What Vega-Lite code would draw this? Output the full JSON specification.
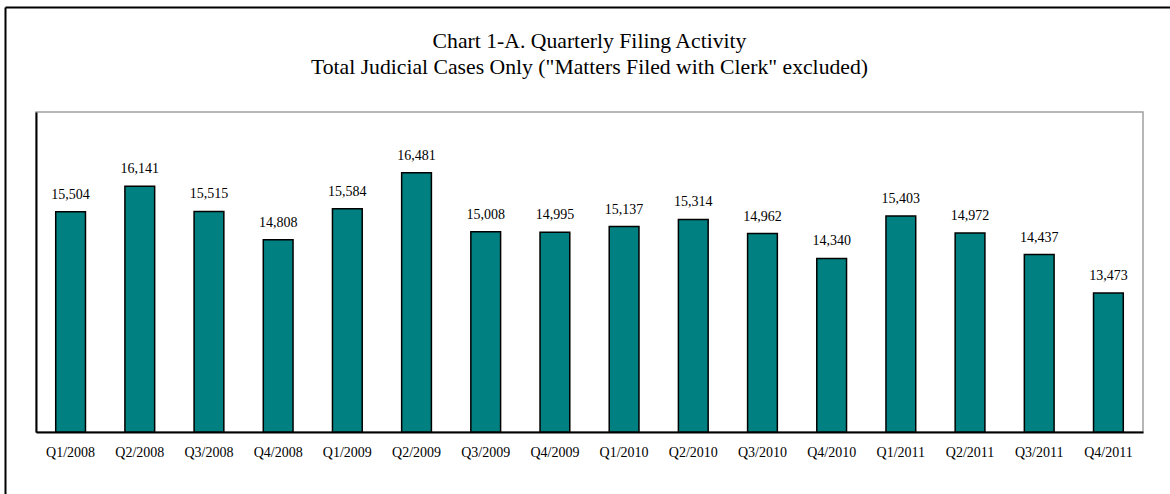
{
  "$schema": "https://vega.github.io/schema/vega-lite/v6.json",
  "autosize": {"type": "none"},
  "width": 1107,
  "height": 320,
  "padding": {"left": 36, "top": 112, "right": 27, "bottom": 62},
  "background": "white",
  "title": {
    "text": ["Chart 1-A. Quarterly Filing Activity", "Total Judicial Cases Only (\"Matters Filed with Clerk\" excluded)"],
    "font": "Liberation Serif",
    "fontSize": 21.7,
    "fontWeight": "normal",
    "lineHeight": 26,
    "color": "black",
    "anchor": "middle",
    "dy": 76
  },
  "config": {
    "view": {"stroke": "#a0a0a0", "strokeWidth": 1.5},
    "font": "Liberation Serif"
  },
  "layer": [
    {
      "data": {
        "values": [
          {"q": "Q1/2008", "v": 15504},
          {"q": "Q2/2008", "v": 16141},
          {"q": "Q3/2008", "v": 15515},
          {"q": "Q4/2008", "v": 14808},
          {"q": "Q1/2009", "v": 15584},
          {"q": "Q2/2009", "v": 16481},
          {"q": "Q3/2009", "v": 15008},
          {"q": "Q4/2009", "v": 14995},
          {"q": "Q1/2010", "v": 15137},
          {"q": "Q2/2010", "v": 15314},
          {"q": "Q3/2010", "v": 14962},
          {"q": "Q4/2010", "v": 14340},
          {"q": "Q1/2011", "v": 15403},
          {"q": "Q2/2011", "v": 14972},
          {"q": "Q3/2011", "v": 14437},
          {"q": "Q4/2011", "v": 13473}
        ]
      },
      "encoding": {
        "x": {
          "field": "q",
          "type": "nominal",
          "sort": null,
          "scale": {"paddingInner": 0.57, "paddingOuter": 0.285},
          "axis": {
            "orient": "bottom",
            "title": null,
            "labelAngle": 0,
            "ticks": false,
            "tickSize": 0,
            "labelPadding": 24,
            "labelBaseline": "alphabetic",
            "labelFont": "Liberation Serif",
            "labelFontSize": 14,
            "labelColor": "black",
            "domainColor": "black",
            "domainWidth": 2,
            "grid": false
          }
        },
        "y": {
          "field": "v",
          "type": "quantitative",
          "scale": {"domain": [10000, 18000], "zero": false, "nice": false},
          "axis": {
            "orient": "left",
            "title": null,
            "labels": false,
            "ticks": false,
            "grid": false,
            "domainColor": "black",
            "domainWidth": 2
          }
        }
      },
      "layer": [
        {
          "mark": {"type": "bar", "fill": "#008080", "stroke": "black", "strokeWidth": 1.5},
          "encoding": {"y2": {"datum": 10000}}
        },
        {
          "mark": {"type": "text", "baseline": "alphabetic", "dy": -13, "fontSize": 14, "font": "Liberation Serif", "color": "black"},
          "encoding": {"text": {"field": "v", "type": "quantitative", "format": ","}}
        }
      ]
    },
    {
      "data": {"values": [{"f": 0}]},
      "mark": {"type": "point", "opacity": 0},
      "encoding": {
        "x": {
          "field": "f",
          "type": "quantitative",
          "scale": {"domain": [0, 1], "range": [-31, 1150]},
          "axis": {"orient": "top", "offset": 105, "title": null, "labels": false, "ticks": false, "grid": false, "domainColor": "black", "domainWidth": 2}
        },
        "y": {
          "field": "f",
          "type": "quantitative",
          "scale": {"domain": [0, 1], "range": [400, -105]},
          "axis": {"orient": "left", "offset": 31, "title": null, "labels": false, "ticks": false, "grid": false, "domainColor": "black", "domainWidth": 2}
        }
      }
    }
  ],
  "resolve": {"scale": {"x": "independent", "y": "independent"}}
}
